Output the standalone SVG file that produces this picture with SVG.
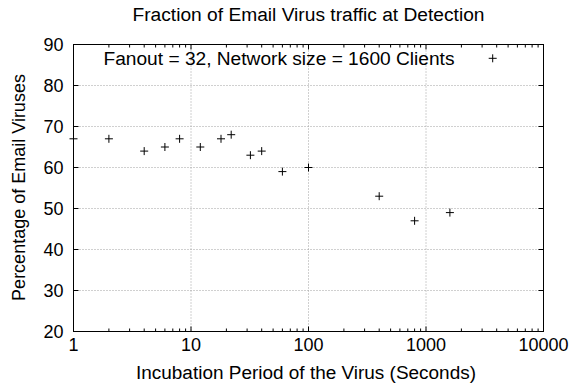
<svg xmlns="http://www.w3.org/2000/svg" width="570" height="392" viewBox="0 0 570 392">
<style>
text { font-family: "Liberation Sans", Arial, sans-serif; font-size: 18px; fill: #000; }
.grid { stroke: #a0a0a0; stroke-width: 1; stroke-dasharray: 1 2; fill: none; }
.axis { stroke: #000; stroke-width: 1; fill: none; }
.pt { stroke: #000; stroke-width: 1; fill: none; }
.yt { text-anchor: end; }
.xt { text-anchor: middle; }
</style>
<defs>
<path id="plus" d="M-4,0H4M0,-4V4" class="pt"/>
</defs>
<rect width="570" height="392" fill="#fff"/>
<g id="title"><text x="308.5" y="20.7" text-anchor="middle" textLength="352" lengthAdjust="spacingAndGlyphs">Fraction of Email Virus traffic at Detection</text></g>
<g id="grid">
<path class="grid" d="M73.5,290.5H543.5M73.5,249.5H543.5M73.5,208.5H543.5M73.5,167.5H543.5M73.5,126.5H543.5M73.5,85.5H543.5"/>
<path class="grid" d="M191,44.5V331.5M308.5,44.5V331.5M426,44.5V331.5"/>
</g>
<g id="axes">
<rect class="axis" x="73.5" y="44.5" width="470" height="287"/>
<path class="axis" d="M73.5,290.5h5M73.5,249.5h5M73.5,208.5h5M73.5,167.5h5M73.5,126.5h5M73.5,85.5h5M543.5,290.5h-5M543.5,249.5h-5M543.5,208.5h-5M543.5,167.5h-5M543.5,126.5h-5M543.5,85.5h-5"/>
<path class="axis" d="M191,331.5v-5M308.5,331.5v-5M426,331.5v-5M191,44.5v5M308.5,44.5v5M426,44.5v5"/>
<path class="axis" d="M108.9,331.5v-3M129.6,331.5v-3M144.2,331.5v-3M155.6,331.5v-3M164.9,331.5v-3M172.8,331.5v-3M179.6,331.5v-3M185.6,331.5v-3M226.4,331.5v-3M247.1,331.5v-3M261.7,331.5v-3M273.1,331.5v-3M282.4,331.5v-3M290.3,331.5v-3M297.1,331.5v-3M303.1,331.5v-3M343.9,331.5v-3M364.6,331.5v-3M379.2,331.5v-3M390.6,331.5v-3M399.9,331.5v-3M407.8,331.5v-3M414.6,331.5v-3M420.6,331.5v-3M461.4,331.5v-3M482.1,331.5v-3M496.7,331.5v-3M508.1,331.5v-3M517.4,331.5v-3M525.3,331.5v-3M532.1,331.5v-3M538.1,331.5v-3"/>
<path class="axis" d="M108.9,44.5v3M129.6,44.5v3M144.2,44.5v3M155.6,44.5v3M164.9,44.5v3M172.8,44.5v3M179.6,44.5v3M185.6,44.5v3M226.4,44.5v3M247.1,44.5v3M261.7,44.5v3M273.1,44.5v3M282.4,44.5v3M290.3,44.5v3M297.1,44.5v3M303.1,44.5v3M343.9,44.5v3M364.6,44.5v3M379.2,44.5v3M390.6,44.5v3M399.9,44.5v3M407.8,44.5v3M414.6,44.5v3M420.6,44.5v3M461.4,44.5v3M482.1,44.5v3M496.7,44.5v3M508.1,44.5v3M517.4,44.5v3M525.3,44.5v3M532.1,44.5v3M538.1,44.5v3"/>
</g>
<g id="yticks">
<text class="yt" x="63.5" y="50.9">90</text>
<text class="yt" x="63.5" y="91.9">80</text>
<text class="yt" x="63.5" y="132.9">70</text>
<text class="yt" x="63.5" y="173.9">60</text>
<text class="yt" x="63.5" y="214.9">50</text>
<text class="yt" x="63.5" y="255.9">40</text>
<text class="yt" x="63.5" y="296.9">30</text>
<text class="yt" x="63.5" y="337.9">20</text>
</g>
<g id="xticks">
<text class="xt" x="73.5" y="351">1</text>
<text class="xt" x="191" y="351">10</text>
<text class="xt" x="308.5" y="351">100</text>
<text class="xt" x="426" y="351">1000</text>
<text class="xt" x="543.5" y="351">10000</text>
</g>
<g id="xlabel"><text x="306" y="378.5" text-anchor="middle" textLength="340" lengthAdjust="spacingAndGlyphs">Incubation Period of the Virus (Seconds)</text></g>
<g id="ylabel"><text transform="translate(25,187.5) rotate(-90)" text-anchor="middle">Percentage of Email Viruses</text></g>
<g id="legend">
<text x="454.5" y="65" text-anchor="end" textLength="351" lengthAdjust="spacingAndGlyphs">Fanout = 32, Network size = 1600 Clients</text>
<use href="#plus" x="492.7" y="58.3"/>
</g>
<g id="points">
<use href="#plus" x="73.5" y="138.8"/>
<use href="#plus" x="108.9" y="138.8"/>
<use href="#plus" x="144.2" y="151.1"/>
<use href="#plus" x="164.9" y="147"/>
<use href="#plus" x="179.6" y="138.8"/>
<use href="#plus" x="200.3" y="147"/>
<use href="#plus" x="221" y="138.8"/>
<use href="#plus" x="231.2" y="134.7"/>
<use href="#plus" x="250.4" y="155.2"/>
<use href="#plus" x="261.7" y="151.1"/>
<use href="#plus" x="282.4" y="171.6"/>
<use href="#plus" x="308.5" y="167.5"/>
<use href="#plus" x="379.2" y="196.2"/>
<use href="#plus" x="414.6" y="220.8"/>
<use href="#plus" x="449.9" y="212.6"/>
</g>
</svg>
